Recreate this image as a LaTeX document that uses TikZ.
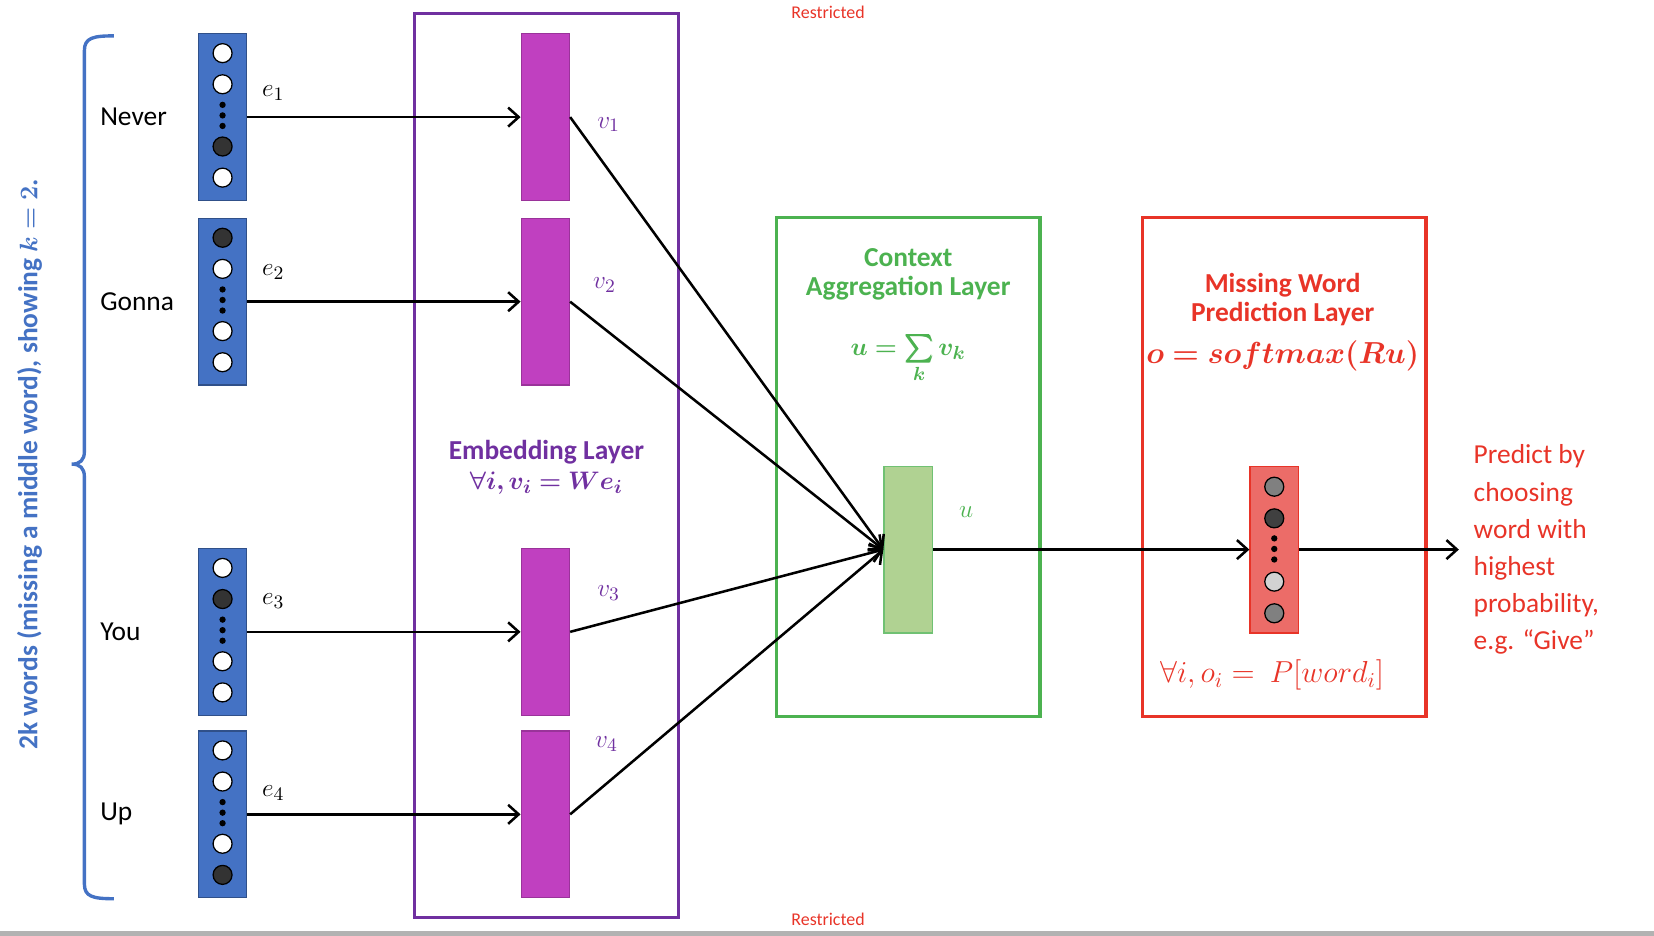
\documentclass[tikz,border=0pt]{standalone}
\usepackage{amsmath}
\usepackage{amssymb}
\usepackage{bm}
\usepackage{fontspec}
\setmainfont{Carlito}
\usepackage{xcolor}
\usetikzlibrary{arrows.meta,calc}

\definecolor{wordblue}{RGB}{68,114,196}
\definecolor{embpurple}{RGB}{112,48,160}
\definecolor{embmag}{RGB}{192,64,192}
\definecolor{ctxgreen}{RGB}{76,178,80}
\definecolor{ctxfill}{RGB}{176,210,146}
\definecolor{predred}{RGB}{232,52,40}
\definecolor{predfill}{RGB}{236,108,104}

\tikzset{
  vec/.style={draw=wordblue!70!black, fill=wordblue, line width=0.6pt, minimum width=23pt, minimum height=79pt, inner sep=0pt},
  emb/.style={draw=embmag!80!black, fill=embmag, line width=0.5pt, minimum width=23pt, minimum height=79pt, inner sep=0pt},
  arr/.style={line width=1.2pt, -{Straight Barb[length=5pt,width=9pt,line width=1.2pt]}},
  lbl/.style={font=\fontsize{13}{15}\selectfont},
}

\begin{document}
\begin{tikzpicture}[x=0.5pt,y=0.5pt,yscale=-1,xscale=1]
\useasboundingbox (0,0) rectangle (1568,887);
\fill[gray!60] (0,883) rectangle (1568,887);

%Restricted marks
\node[text=predred, font=\fontsize{8.5}{10}\selectfont] (rtop) at (785,12) {Restricted};
\node[text=predred, font=\fontsize{8.5}{10}\selectfont] (rbot) at (785,872) {Restricted};

%Brace
\draw[wordblue, line width=1.6pt] (108,34) .. controls (88,34) and (80,36) .. (80,48) -- (80,428) .. controls (80,436) and (76,440) .. (68,440) .. controls (76,440) and (80,444) .. (80,452) -- (80,838) .. controls (80,850) and (88,852) .. (108,852);
\node[rotate=90, text=wordblue, font=\fontsize{13}{15}\selectfont\bfseries] (ktext) at (28,440) {2k words (missing a middle word), showing $\bm{k=2}$.};

%Embedding layer box
\draw[embpurple, line width=1.6pt] (393,13) rectangle (643,870);
\node[text=embpurple, font=\fontsize{13}{15}\selectfont\bfseries, align=center] (embtitle) at (518,443) {Embedding Layer\\[-1pt] $\bm{\forall i, v_i = We_i}$};

%Context box
\draw[ctxgreen, line width=1.6pt] (736,206) rectangle (986,679);
\node[text=ctxgreen, font=\fontsize{13}{15}\selectfont\bfseries, align=center] (ctxtitle) at (861,260) {Context\\[-1pt] Aggregation Layer};
\node[text=ctxgreen, font=\fontsize{13}{15}\selectfont] (ctxform) at (861,340) {$\bm{u = \sum\limits_{k} v_k}$};

%Prediction box
\draw[predred, line width=1.6pt] (1083,206) rectangle (1352,679);
\node[text=predred, font=\fontsize{13}{15}\selectfont\bfseries, align=center] (predtitle) at (1216,284) {Missing Word\\[-1pt] Prediction Layer};
\node[text=predred, font=\fontsize{14}{16}\selectfont] (predform) at (1216,337) {$\bm{o = softmax(Ru)}$};
\node[text=predred, font=\fontsize{14}{16}\selectfont] (predprob) at (1206,640) {$\forall i, o_i =\ P[word_i]$};

%Word vectors and embeddings
\foreach \n/\w/\y in {1/Never/111, 2/Gonna/286, 3/You/599, 4/Up/772} {
  \node[vec] (e\n) at (211,\y) {};
  \node[emb] (v\n) at (517,\y) {};
  \node[lbl, anchor=west] (w\n) at (88,\y) {\w};
  \draw[arr] (e\n.east) -- (v\n.west);
}
\node[lbl] (le1) at (259,88) {$e_1$};
\node[lbl] (le2) at (259,258) {$e_2$};
\node[lbl] (le3) at (259,570) {$e_3$};
\node[lbl] (le4) at (259,752) {$e_4$};
\node[lbl, text=embpurple] (lv1) at (577,118) {$v_1$};
\node[lbl, text=embpurple] (lv2) at (573,270) {$v_2$};
\node[lbl, text=embpurple] (lv3) at (577,562) {$v_3$};
\node[lbl, text=embpurple] (lv4) at (575,705) {$v_4$};

%One-hot entries
\foreach \n/\a/\b/\c/\d in {1/white/white/black!80/white, 2/black!80/white/white/white, 3/white/black!80/white/white, 4/white/white/white/black!80} {
  \foreach \i/\f in {0/\a, 1/\b, 3/\c, 4/\d}
    \draw[fill=\f, line width=0.6pt] ($(e\n.north)+(0,19+\i*29.5)$) circle (9);
  \foreach \j in {-10,0,10}
    \fill ($(e\n.north)+(0,78+\j)$) circle (3);
}

%Aggregation
\node[draw=ctxgreen!80, fill=ctxfill, line width=0.6pt, minimum width=23pt, minimum height=79pt, inner sep=0pt] (u) at (861,521) {};
\node[lbl, text=ctxgreen] (lu) at (916,485) {$u$};
\foreach \n in {1,...,4}
  \draw[arr] (v\n.east) -- (u.west);

%Output vector
\node[draw=predred, fill=predfill, line width=0.6pt, minimum width=23pt, minimum height=79pt, inner sep=0pt] (o) at (1208,521) {};
\foreach \i/\f in {0/gray, 1/black!75, 3/gray!35, 4/gray}
  \draw[fill=\f, line width=0.6pt] ($(o.north)+(0,20+\i*30)$) circle (9);
\foreach \j in {-10,0,10}
  \fill ($(o.north)+(0,79+\j)$) circle (3);
\draw[arr] (u.east) -- (o.west);
\coordinate (out) at (1383,521);
\draw[arr] (o.east) -- (out);
\node[text=predred, font=\fontsize{13}{17.6}\selectfont, align=left, anchor=west] (predict) at (1390,521) {Predict by\\choosing\\word with\\highest\\probability,\\e.g. “Give”};
\end{tikzpicture}
\end{document}
